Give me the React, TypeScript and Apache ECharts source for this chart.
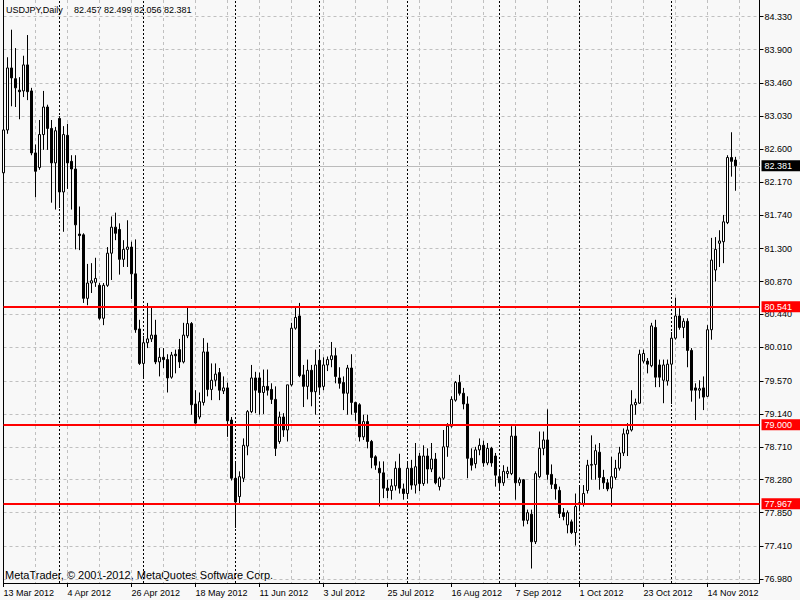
import React, { useEffect, useRef } from "react";
import * as echarts from "echarts";

const SYMBOL = "USDJPY";
const PERIOD = "Daily";
const FIRST_BAR_DATE = "2012-03-13";
const FUTURE_SLOTS = 6;
const COPYRIGHT = "MetaTrader, © 2001-2012, MetaQuotes Software Corp.";

const opens = [
  82.29, 82.85, 83.66, 83.52, 83.37, 83.36, 83.70, 83.36, 82.55, 82.36,
  82.79, 83.15, 82.87, 82.42, 83.00, 82.04, 82.78, 82.44, 82.34, 81.49,
  81.48, 80.65, 80.85, 80.86, 80.82, 80.39, 80.82, 81.24, 81.58, 81.55,
  81.16, 81.29, 81.32, 80.97, 80.25, 79.80, 80.07, 80.12, 80.17, 79.82,
  79.88, 79.85, 79.62, 79.92, 79.98, 79.82, 80.16, 80.32, 79.27, 79.10,
  79.29, 79.95, 79.46, 79.58, 79.68, 79.44, 79.48, 79.06, 78.30, 78.06,
  78.30, 78.72, 79.17, 79.61, 79.61, 79.42, 79.50, 79.46, 79.33, 78.78,
  79.10, 78.93, 79.52, 80.26, 80.42, 79.65, 79.50, 79.71, 79.43, 79.84,
  79.50, 79.78, 79.85, 79.90, 79.61, 79.55, 79.41, 79.74, 79.29, 79.26,
  78.84, 79.04, 78.78, 78.58, 78.43, 78.37, 78.17, 78.14, 78.20, 78.43,
  78.16, 78.10, 78.43, 78.21, 78.59, 78.23, 78.59, 78.42, 78.55, 78.19,
  78.30, 78.71, 78.98, 79.32, 79.55, 79.41, 79.27, 78.56, 78.49, 78.67,
  78.73, 78.50, 78.69, 78.59, 78.32, 78.24, 78.36, 78.36, 78.85, 78.24,
  78.28, 77.75, 77.83, 77.47, 78.32, 78.69, 78.80, 78.35, 78.22, 78.14,
  77.85, 77.69, 77.73, 77.59, 77.96, 77.97, 78.14, 78.47, 78.48, 78.64,
  78.31, 78.24, 78.17, 78.31, 78.43, 78.63, 78.88, 78.93, 79.26, 79.28,
  79.83, 79.83, 79.77, 80.27, 79.78, 79.58, 79.57, 79.79, 80.13, 80.42,
  80.27, 80.35, 79.97, 79.48, 79.45, 79.48, 79.37, 80.24, 81.02, 81.37,
  81.39, 81.64, 82.49, 82.457,
];

const highs = [
  83.05, 83.80, 84.16, 83.92, 83.54, 83.82, 84.09, 83.40, 82.66, 82.98,
  83.36, 83.18, 82.98, 82.89, 83.03, 82.90, 82.93, 82.52, 82.52, 81.85,
  81.50, 81.10, 81.11, 81.18, 80.85, 80.85, 81.32, 81.72, 81.77, 81.63,
  81.41, 81.67, 81.39, 81.42, 80.37, 80.16, 80.59, 80.55, 80.37, 80.00,
  80.00, 79.92, 79.95, 79.98, 80.12, 80.33, 80.53, 80.34, 79.45, 79.42,
  80.13, 80.07, 79.80, 79.80, 79.74, 79.63, 79.55, 79.10, 78.50, 78.39,
  78.82, 79.19, 79.78, 79.69, 79.68, 79.72, 79.72, 79.54, 79.50, 79.17,
  79.15, 79.52, 80.33, 80.54, 80.59, 79.78, 79.85, 79.78, 79.98, 79.98,
  79.88, 79.89, 80.08, 80.00, 79.75, 79.63, 79.78, 79.92, 79.30, 79.28,
  79.13, 79.13, 78.80, 78.60, 78.52, 78.52, 78.28, 78.29, 78.52, 78.62,
  78.23, 78.50, 78.54, 78.76, 78.63, 78.73, 78.69, 78.76, 78.63, 78.32,
  78.93, 79.02, 79.37, 79.57, 79.65, 79.48, 79.37, 78.69, 78.71, 78.82,
  78.79, 78.76, 78.71, 78.63, 78.41, 78.47, 78.45, 78.98, 78.98, 78.31,
  78.29, 77.89, 77.89, 78.39, 78.91, 78.91, 79.20, 78.48, 78.30, 78.19,
  77.91, 77.88, 77.76, 78.10, 78.21, 78.21, 78.54, 78.86, 78.74, 78.76,
  78.41, 78.29, 78.58, 78.54, 78.71, 78.95, 79.02, 79.45, 79.34, 79.98,
  79.98, 79.87, 80.33, 80.37, 79.85, 79.85, 79.85, 80.21, 80.66, 80.52,
  80.39, 80.39, 80.00, 79.54, 79.58, 79.63, 80.30, 81.44, 81.45, 81.54,
  81.74, 82.52, 82.82, 82.499,
];

const lows = [
  81.94, 82.80, 83.16, 83.15, 82.99, 83.28, 83.24, 82.52, 81.97, 82.33,
  82.59, 82.59, 81.90, 81.81, 81.83, 81.52, 82.08, 81.81, 81.29, 81.28,
  80.59, 80.56, 80.72, 80.80, 80.37, 80.30, 80.80, 80.89, 81.41, 80.96,
  81.06, 81.06, 80.64, 80.20, 79.78, 79.62, 80.00, 80.08, 79.79, 79.63,
  79.74, 79.42, 79.60, 79.67, 79.74, 79.80, 80.13, 79.13, 78.99, 79.07,
  79.25, 79.37, 79.32, 79.50, 79.32, 79.40, 78.84, 78.27, 77.65, 77.97,
  78.25, 78.60, 79.15, 79.15, 79.13, 79.14, 79.38, 79.27, 78.59, 78.75,
  78.84, 78.78, 79.50, 80.24, 79.62, 79.23, 79.33, 79.24, 79.13, 79.40,
  79.45, 79.70, 79.75, 79.54, 79.47, 79.19, 79.13, 79.13, 79.05, 78.78,
  78.80, 78.69, 78.43, 78.41, 77.93, 78.04, 78.04, 78.02, 78.14, 78.10,
  78.02, 78.04, 78.15, 78.10, 78.13, 78.20, 78.23, 78.38, 78.22, 78.14,
  78.28, 78.58, 78.96, 79.30, 79.38, 79.20, 78.30, 78.40, 78.43, 78.60,
  78.45, 78.47, 78.45, 78.19, 78.15, 78.20, 78.30, 78.34, 78.02, 78.20,
  77.67, 77.70, 77.12, 77.44, 78.30, 78.60, 78.28, 78.16, 78.02, 77.78,
  77.75, 77.58, 77.57, 77.42, 77.87, 77.93, 78.10, 78.28, 78.28, 78.15,
  78.16, 78.13, 77.93, 78.28, 78.40, 78.59, 78.59, 78.91, 79.13, 79.27,
  79.80, 79.67, 79.75, 79.49, 79.49, 79.28, 79.51, 79.27, 80.11, 80.24,
  80.13, 79.75, 79.30, 79.06, 79.34, 79.19, 79.36, 80.11, 80.87, 81.06,
  81.11, 81.62, 82.24, 82.056,
];

const closes = [
  82.85, 83.66, 83.53, 83.40, 83.35, 83.70, 83.35, 82.55, 82.31, 82.79,
  83.15, 82.87, 82.42, 82.84, 82.04, 82.79, 82.42, 82.34, 81.61, 81.47,
  80.65, 80.85, 80.88, 80.91, 80.39, 80.82, 81.24, 81.58, 81.50, 81.16,
  81.29, 81.32, 80.97, 80.24, 79.80, 80.07, 80.12, 80.17, 79.82, 79.88,
  79.85, 79.61, 79.91, 79.90, 79.82, 80.17, 80.32, 79.26, 79.02, 79.30,
  79.95, 79.46, 79.58, 79.66, 79.45, 79.48, 79.05, 78.30, 77.99, 78.32,
  78.73, 79.17, 79.61, 79.45, 79.42, 79.50, 79.45, 79.33, 78.69, 79.10,
  78.93, 79.52, 80.26, 80.40, 79.64, 79.50, 79.71, 79.43, 79.78, 79.49,
  79.78, 79.85, 79.90, 79.63, 79.54, 79.41, 79.74, 79.29, 79.16, 78.84,
  79.04, 78.78, 78.57, 78.47, 78.37, 78.17, 78.14, 78.20, 78.43, 78.17,
  78.10, 78.43, 78.21, 78.45, 78.23, 78.59, 78.42, 78.55, 78.24, 78.30,
  78.71, 78.98, 79.33, 79.55, 79.41, 79.27, 78.56, 78.47, 78.67, 78.73,
  78.50, 78.69, 78.50, 78.34, 78.24, 78.39, 78.39, 78.85, 78.24, 78.28,
  77.75, 77.85, 77.47, 78.36, 78.69, 78.80, 78.35, 78.22, 78.16, 77.84,
  77.80, 77.85, 77.59, 77.93, 77.98, 78.10, 78.47, 78.48, 78.66, 78.31,
  78.24, 78.16, 78.32, 78.43, 78.63, 78.88, 78.93, 79.26, 79.29, 79.92,
  79.93, 79.79, 80.29, 79.62, 79.62, 79.78, 79.79, 80.13, 80.42, 80.27,
  80.35, 79.97, 79.45, 79.45, 79.47, 79.36, 80.24, 81.15, 81.29, 81.40,
  81.65, 82.49, 82.44, 82.381,
];

const yTicks = [
  76.98, 77.41, 77.85, 78.28, 78.71, 79.14, 79.57, 80.01, 80.44,
  80.87, 81.3, 81.74, 82.17, 82.6, 83.03, 83.46, 83.9, 84.33,
];
const levels = [80.541, 79.0, 77.967];
const Y_MIN = 76.931;
const Y_MAX = 84.548;

const MONTHS = ["Jan", "Feb", "Mar", "Apr", "May", "Jun", "Jul", "Aug", "Sep", "Oct", "Nov", "Dec"];
const FONT = "Liberation Sans";

function tradingDays(start: string, count: number): Date[] {
  const out: Date[] = [];
  const d = new Date(start + "T00:00:00Z");
  while (out.length < count) {
    const wd = d.getUTCDay();
    if (wd !== 0 && wd !== 6) out.push(new Date(d.getTime()));
    d.setUTCDate(d.getUTCDate() + 1);
  }
  return out;
}

function fmtDate(d: Date): string {
  return `${d.getUTCDate()} ${MONTHS[d.getUTCMonth()]} ${d.getUTCFullYear()}`;
}

export default function App() {
  const ref = useRef<HTMLDivElement>(null);

  useEffect(() => {
    const el = ref.current;
    if (!el) return;
    const chart = echarts.init(el, null, { renderer: "svg" });
    const n = opens.length;
    const days = tradingDays(FIRST_BAR_DATE, n + FUTURE_SLOTS);
    const categories = days.map(fmtDate);
    const monthStarts: number[] = [];
    for (let i = 1; i < n; i++) {
      if (days[i].getUTCMonth() !== days[i - 1].getUTCMonth()) monthStarts.push(i);
    }
    const candles = opens.map((o, i) => [o, closes[i], lows[i], highs[i]]);
    const last = n - 1;
    const ohlcText = [opens[last], highs[last], lows[last], closes[last]]
      .map((v) => v.toFixed(3))
      .join(" ");

    const boxLabel = (bg: string) => ({
      show: true,
      position: "end",
      distance: 2,
      formatter: (p: any) => Number(p.value).toFixed(3),
      color: "#ffffff",
      backgroundColor: bg,
      fontSize: 9,
      fontFamily: FONT,
      lineHeight: 10,
      padding: [1, 8, 0, 3],
    });

    const option: any = {
      animation: false,
      backgroundColor: "#f8f8f8",
      grid: { left: 3.5, right: 40.5, top: 0, bottom: 17, containLabel: false, outerBoundsMode: "none" },
      graphic: [
        {
          type: "text",
          x: 6,
          y: 10,
          silent: true,
          style: { text: `${SYMBOL},${PERIOD}`, fill: "#000", fontSize: 9, fontFamily: FONT, verticalAlign: "middle", align: "left" },
        },
        {
          type: "text",
          x: 74,
          y: 10,
          silent: true,
          style: { text: ohlcText, fill: "#000", fontSize: 9, fontFamily: FONT, verticalAlign: "middle", align: "left" },
        },
        {
          type: "text",
          x: 5,
          y: 575,
          silent: true,
          style: { text: COPYRIGHT, fill: "#000", fontSize: 11, fontFamily: FONT, verticalAlign: "middle", align: "left" },
        },
      ],
      xAxis: {
        type: "category",
        data: categories,
        boundaryGap: false,
        axisLine: { show: true, lineStyle: { color: "#000", width: 1 } },
        axisTick: { show: true, interval: 15, length: 4, lineStyle: { color: "#000" } },
        axisLabel: {
          interval: 15,
          align: "left",
          verticalAlign: "middle",
          margin: 10,
          fontSize: 9,
          fontFamily: FONT,
          color: "#000",
        },
        splitLine: { show: true, interval: 7, lineStyle: { color: "#c0c0c0", type: [3, 3], width: 1 } },
      },
      yAxis: [
        {
          type: "value",
          position: "right",
          min: Y_MIN,
          max: Y_MAX,
          axisLine: { show: true, lineStyle: { color: "#000", width: 1 } },
          axisTick: { show: true, length: 4, lineStyle: { color: "#000" }, customValues: yTicks },
          axisLabel: {
            customValues: yTicks,
            formatter: (v: number) => v.toFixed(3),
            color: "#000",
            fontSize: 9,
            fontFamily: FONT,
            margin: 5,
            align: "left",
          },
          splitLine: { show: true, lineStyle: { color: "#c0c0c0", type: [3, 3], width: 1 } },
        },
        {
          type: "value",
          position: "left",
          min: Y_MIN,
          max: Y_MAX,
          axisLine: { show: true, lineStyle: { color: "#000", width: 1 } },
          axisTick: { show: false },
          axisLabel: { show: false },
          splitLine: { show: false },
        },
      ],
      series: [
        {
          type: "line",
          data: [],
          silent: true,
          markLine: {
            z: 1,
            silent: true,
            animation: false,
            symbol: ["none", "none"],
            precision: 3,
            emphasis: { disabled: true },
            data: [
              ...monthStarts.map((i) => ({
                xAxis: i,
                lineStyle: { color: "#000", type: [2, 2], width: 1 },
                label: { show: false },
              })),
              {
                yAxis: closes[last],
                lineStyle: { color: "#bbbbbb", type: "solid", width: 1 },
                label: boxLabel("#000000"),
              },
            ],
          },
        },
        {
          type: "candlestick",
          data: candles,
          barWidth: 2,
          silent: true,
          itemStyle: {
            color: "#ffffff",
            color0: "#000000",
            borderColor: "#000000",
            borderColor0: "#000000",
            borderWidth: 1,
          },
          markLine: {
            z: 5,
            silent: true,
            animation: false,
            symbol: ["none", "none"],
            precision: 3,
            emphasis: { disabled: true },
            lineStyle: { color: "#ff0000", type: "solid", width: 2 },
            label: boxLabel("#ff0000"),
            data: levels.map((v) => ({ yAxis: v })),
          },
        },
      ],
    };

    chart.setOption(option);
    return () => chart.dispose();
  }, []);

  return (
    <div
      ref={ref}
      style={{ position: "fixed", left: 0, top: 0, width: 800, height: 600 }}
    />
  );
}
